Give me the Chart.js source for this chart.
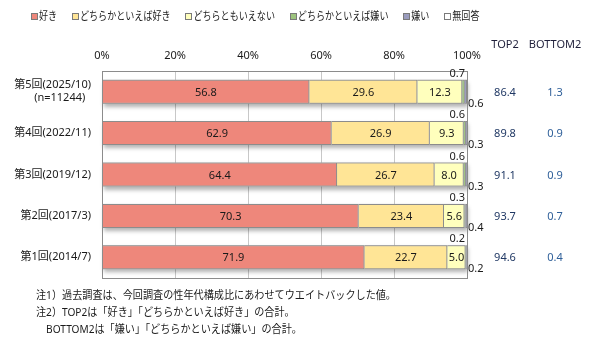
<!DOCTYPE html>
<html>
<head>
<meta charset="utf-8">
<script src="https://cdn.jsdelivr.net/npm/chart.js@4"></script>
<style>
  html, body { margin: 0; padding: 0; background: #fff; }
  #wrap { width: 590px; height: 347px; }
</style>
</head>
<body>
<div id="wrap"><canvas id="likeChart" width="590" height="347"></canvas></div>
<script>
const FONT = "'Noto Sans', 'Noto Sans CJK JP', sans-serif";

const categories = [['第5回(2025/10)', '(n=11244)  '], '第4回(2022/11)', '第3回(2019/12)', '第2回(2017/3)', '第1回(2014/7)'];
const like = [56.8, 62.9, 64.4, 70.3, 71.9];
const ratherLike = [29.6, 26.9, 26.7, 23.4, 22.7];
const neutral = [12.3, 9.3, 8.0, 5.6, 5.0];
const ratherDislike = [0.7, 0.6, 0.6, 0.3, 0.2];
const dislike = [0.6, 0.3, 0.3, 0.4, 0.2];
const noAnswer = [0, 0, 0, 0, 0];
const top2 = [86.4, 89.8, 91.1, 93.7, 94.6];
const bottom2 = [1.3, 0.9, 0.9, 0.7, 0.4];
const xTicks = [0, 20, 40, 60, 80, 100];
const notes = [
  '注1）過去調査は、今回調査の性年代構成比にあわせてウエイトバックした値。',
  '注2）TOP2は「好き」「どちらかといえば好き」の合計。',
  '　BOTTOM2は「嫌い」「どちらかといえば嫌い」の合計。'
];

const ctx = document.getElementById('likeChart').getContext('2d');

function series(label, data, bg) {
  return { label: label, data: data, backgroundColor: bg, borderColor: '#8C8C8C', borderWidth: 1 };
}

const data = {
  labels: categories,
  datasets: [
    series('好き', like, '#EE877B'),
    series('どちらかといえば好き', ratherLike, '#FFE596'),
    series('どちらともいえない', neutral, '#FFFFBD'),
    series('どちらかといえば嫌い', ratherDislike, '#9DC47E'),
    series('嫌い', dislike, '#9A9CBE'),
    series('無回答', noAnswer, '#FFFFFF'),
  ],
};

// soft shadow under each whole bar
const barShadow = {
  id: 'barShadow',
  beforeDatasetsDraw(chart) {
    const c = chart.ctx;
    const first = chart.getDatasetMeta(0).data;
    const last = chart.getDatasetMeta(4).data;
    c.save();
    c.shadowColor = 'rgba(0,0,0,0.3)';
    c.shadowBlur = 4;
    c.shadowOffsetX = 1;
    c.shadowOffsetY = 3;
    c.fillStyle = '#bbbbbb';
    first.forEach((bar, i) => {
      const left = bar.base;
      const right = last[i].x;
      c.fillRect(left, bar.y - bar.height / 2, right - left, bar.height);
    });
    c.restore();
  }
};

const overlay = {
  id: 'overlay',
  afterDatasetsDraw(chart) {
    const c = chart.ctx;
    const area = chart.chartArea;
    const y = chart.scales.y;
    c.save();
    // plot box
    c.strokeStyle = '#8C8C8C';
    c.lineWidth = 1;
    c.strokeRect(Math.round(area.left) + 0.5, Math.round(area.top) + 0.5,
      Math.round(area.right - area.left), Math.round(area.bottom - area.top));

    // values inside bars
    c.font = '11px ' + FONT;
    c.fillStyle = '#1a1a1a';
    c.textAlign = 'center';
    c.textBaseline = 'middle';
    [0, 1, 2].forEach(d => {
      chart.getDatasetMeta(d).data.forEach((bar, i) => {
        c.fillText(chart.data.datasets[d].data[i].toFixed(1), (bar.x + bar.base) / 2, bar.y + 1);
      });
    });

    // small values at the bar end
    const rd = chart.getDatasetMeta(3).data;
    const dl = chart.getDatasetMeta(4).data;
    rd.forEach((bar, i) => {
      const top = bar.y - bar.height / 2;
      const bottom = bar.y + bar.height / 2;
      c.textAlign = 'right';
      c.fillText(ratherDislike[i].toFixed(1), dl[i].x - 2, top - 6);
      c.textAlign = 'left';
      c.fillText(dislike[i].toFixed(1), dl[i].x + 1, bottom);
    });

    // TOP2 / BOTTOM2 columns
    c.textAlign = 'center';
    c.fillStyle = '#1F1F3A';
    c.fillText('TOP2', 505, 45);
    c.fillText('BOTTOM2', 555, 45);
    categories.forEach((cat, i) => {
      const py = y.getPixelForValue(i) + 1;
      c.fillStyle = '#203864';
      c.fillText(top2[i].toFixed(1), 505, py);
      c.fillStyle = '#2E5F99';
      c.fillText(bottom2[i].toFixed(1), 555, py);
    });

    // legend, squeezed horizontally to the original width
    c.font = '11px ' + FONT;
    c.textAlign = 'left';
    const sets = chart.data.datasets;
    let natural = 0;
    sets.forEach((ds, k) => {
      natural += 8 + c.measureText(ds.label).width + (k < sets.length - 1 ? 18 : 0);
    });
    const sx = Math.min(1, 440 / natural);
    let lx = 31;
    sets.forEach(ds => {
      c.fillStyle = ds.backgroundColor;
      c.fillRect(Math.round(lx) + 0.5, 13.5, 6, 6);
      c.strokeStyle = '#7a7a7a';
      c.strokeRect(Math.round(lx) + 0.5, 13.5, 6, 6);
      c.fillStyle = '#1a1a1a';
      const w = c.measureText(ds.label).width;
      c.save();
      c.translate(lx + 8, 17);
      c.scale(sx, 1);
      c.fillText(ds.label, 0, 0);
      c.restore();
      lx += 8 + w * sx + 18 * sx;
    });

    // notes
    c.font = '11px ' + FONT;
    notes.forEach((n, i) => {
      c.save();
      c.translate(36, 296 + i * 17);
      c.scale(0.92, 1);
      c.fillText(n, 0, 0);
      c.restore();
    });
    c.restore();
  }
};

const options = {
  responsive: false,
  animation: false,
  indexAxis: 'y',
  layout: {
    padding: { top: 0, right: 123, bottom: 69, left: 0 },
  },
  scales: {
    x: {
      position: 'top',
      stacked: true,
      min: 0,
      max: 100,
      afterFit: scale => { scale.height = 71; },
      afterBuildTicks: scale => { scale.ticks = xTicks.map(v => ({ value: v })); },
      grid: { color: '#C8C8C8', drawTicks: false },
      border: { display: false },
      ticks: {
        color: '#1a1a1a',
        font: { family: FONT, size: 11 },
        padding: 9,
        callback: v => v + '%',
      },
    },
    y: {
      stacked: true,
      afterFit: scale => { scale.width = 102; },
      grid: { display: false, drawTicks: false },
      border: { display: false },
      ticks: {
        color: '#1a1a1a',
        font: { family: FONT, size: 11 },
        padding: 11,
      },
    },
  },
  datasets: {
    bar: { barPercentage: 0.58, categoryPercentage: 1 },
  },
  plugins: {
    legend: { display: false },
    tooltip: { enabled: false },
  },
};

const likeChart = new Chart(ctx, {
  type: 'bar',
  data: data,
  options: options,
  plugins: [barShadow, overlay],
});
</script>
</body>
</html>
